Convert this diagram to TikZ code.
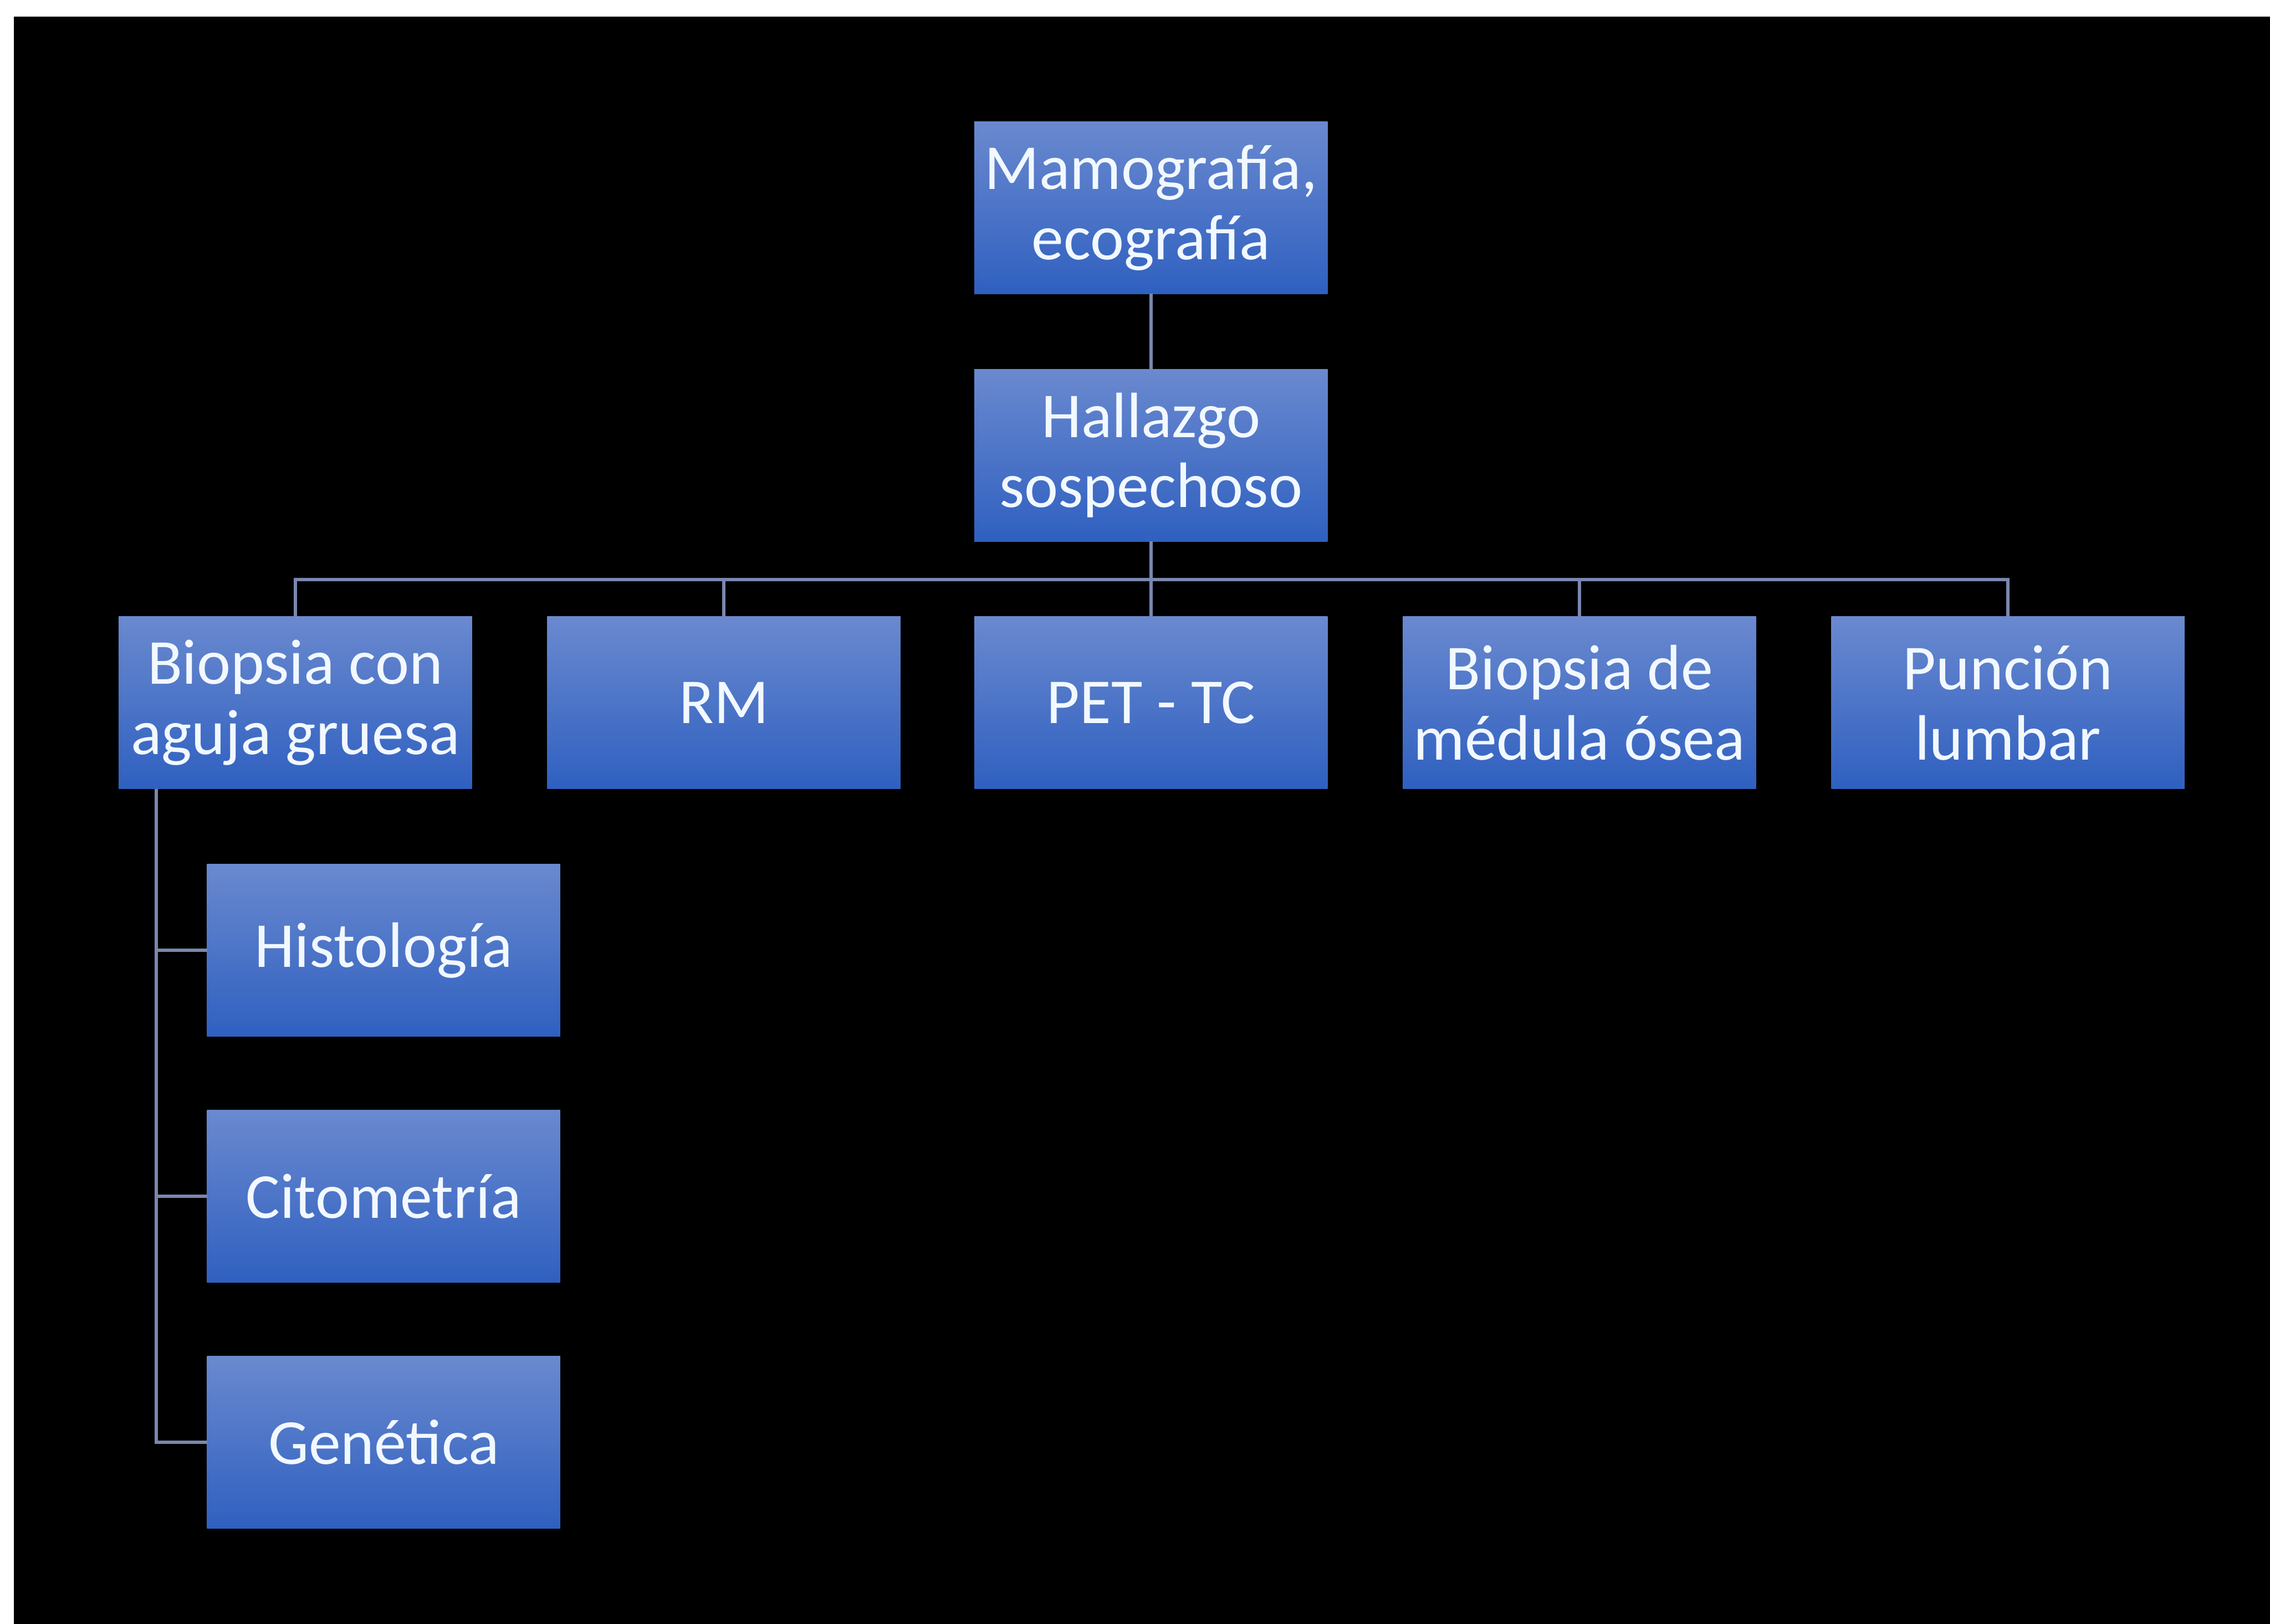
\documentclass[tikz,border=0pt]{standalone}
\usepackage{fontspec}
\setmainfont{Carlito}
\usetikzlibrary{positioning}

\definecolor{boxtop}{HTML}{6A89CF}
\definecolor{boxmid}{HTML}{4674D2}
\definecolor{boxbot}{HTML}{2F60C0}
\definecolor{linkgray}{HTML}{7A88AE}
\definecolor{txtwhite}{HTML}{F2F8FF}

\tikzset{
  boxnode/.style={rectangle, minimum width=2.44cm, minimum height=1.19cm, inner sep=0pt, outer sep=0pt,
    top color=boxtop, middle color=boxmid, bottom color=boxbot,
    text=txtwhite, align=center,
    font=\fontsize{12.6}{13.8}\selectfont},
  link/.style={draw=linkgray, line width=0.7pt}
}

\begin{document}
\begin{tikzpicture}
			%%%%% START %%%%%
			\def\W{15.68}
			\def\H{11.22}
			\def\gap{0.52cm}
			\def\vgap{0.51cm}
			
			\fill[white] (0,0) rectangle (\W,-\H);
			\fill[black] (0.096,-0.115) rectangle (\W,-\H);
			\useasboundingbox (0,0) rectangle (\W,-\H);
			
			\node[boxnode] (mamo) at (7.95,-1.435) {Mamografía,\\ecografía};
			\node[boxnode, below=\gap of mamo] (hallazgo) {Hallazgo\\sospechoso};
			
			\node[boxnode, below=\gap of hallazgo] (pettc) {PET - TC};
			\node[boxnode, left=\vgap of pettc] (rm) {RM};
			\node[boxnode, left=\gap of rm] (biopsia) {Biopsia con\\aguja gruesa};
			\node[boxnode, right=\gap of pettc] (medula) {Biopsia de\\médula ósea};
			\node[boxnode, right=\gap of medula] (puncion) {Punción\\lumbar};
			
			\node[boxnode, anchor=north west] (histo) at ([xshift=0.61cm,yshift=-\gap]biopsia.south west) {Histología};
			\node[boxnode, below=\vgap of histo] (cito) {Citometría};
			\node[boxnode, below=\vgap of cito] (gene) {Genética};
			
			\draw[link] (mamo.south) -- (hallazgo.north);
			\foreach \n in {biopsia,rm,pettc,medula,puncion}
				\draw[link] (hallazgo.south) -- ++(0,-0.265) -| (\n.north);
			
			\coordinate (trunk) at ([xshift=0.26cm]biopsia.south west);
			\foreach \n in {histo,cito,gene}
				\draw[link] (trunk) |- (\n.west);
			%%%%% END %%%%%
\end{tikzpicture}
\end{document}
